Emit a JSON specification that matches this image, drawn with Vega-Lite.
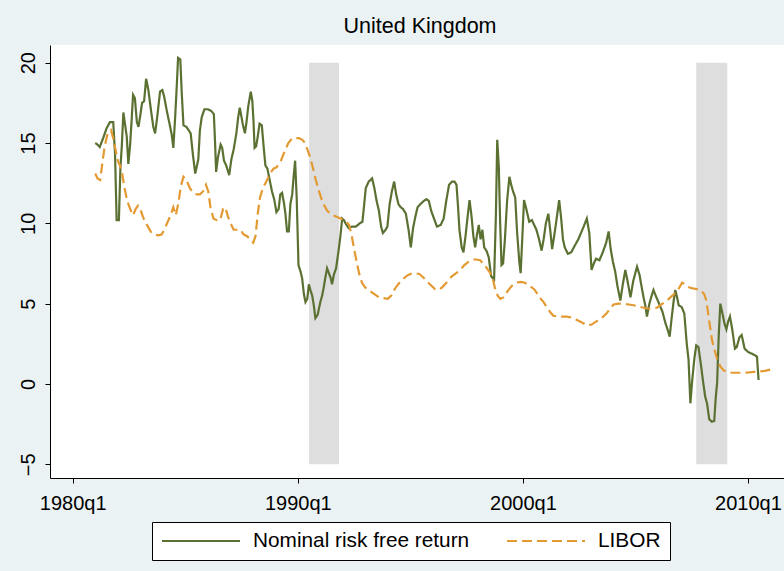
{
  "$schema": "https://vega.github.io/schema/vega-lite/v6.json",
  "width": 734,
  "height": 433,
  "autosize": {"type": "none"},
  "padding": {"left": 50, "top": 45, "right": 0, "bottom": 93},
  "background": "#EAF2F3",
  "view": {"fill": "white", "stroke": null},
  "title": {
    "text": "United Kingdom",
    "font": "Liberation Sans",
    "fontSize": 21.5,
    "fontWeight": "normal",
    "color": "black",
    "anchor": "middle",
    "baseline": "alphabetic",
    "offset": 11,
    "dx": 3,
    "dy": 20
  },
  "datasets": {
    "recessions": [
      {"start": 1990.5, "end": 1991.83},
      {"start": 2007.7, "end": 2009.08}
    ],
    "rates": [
      {"t": 1981.00, "value": 15.0, "series": "Nominal risk free return"},
      {"t": 1981.10, "value": 14.9, "series": "Nominal risk free return"},
      {"t": 1981.20, "value": 14.75, "series": "Nominal risk free return"},
      {"t": 1981.35, "value": 15.3, "series": "Nominal risk free return"},
      {"t": 1981.50, "value": 15.9, "series": "Nominal risk free return"},
      {"t": 1981.65, "value": 16.3, "series": "Nominal risk free return"},
      {"t": 1981.80, "value": 16.3, "series": "Nominal risk free return"},
      {"t": 1981.88, "value": 14.3, "series": "Nominal risk free return"},
      {"t": 1981.95, "value": 10.2, "series": "Nominal risk free return"},
      {"t": 1982.05, "value": 10.2, "series": "Nominal risk free return"},
      {"t": 1982.12, "value": 13.5, "series": "Nominal risk free return"},
      {"t": 1982.18, "value": 14.8, "series": "Nominal risk free return"},
      {"t": 1982.25, "value": 16.9, "series": "Nominal risk free return"},
      {"t": 1982.32, "value": 16.2, "series": "Nominal risk free return"},
      {"t": 1982.40, "value": 15.4, "series": "Nominal risk free return"},
      {"t": 1982.47, "value": 13.7, "series": "Nominal risk free return"},
      {"t": 1982.55, "value": 14.9, "series": "Nominal risk free return"},
      {"t": 1982.62, "value": 16.5, "series": "Nominal risk free return"},
      {"t": 1982.68, "value": 18.0, "series": "Nominal risk free return"},
      {"t": 1982.76, "value": 17.8, "series": "Nominal risk free return"},
      {"t": 1982.85, "value": 16.3, "series": "Nominal risk free return"},
      {"t": 1982.92, "value": 16.0, "series": "Nominal risk free return"},
      {"t": 1983.00, "value": 16.7, "series": "Nominal risk free return"},
      {"t": 1983.08, "value": 17.5, "series": "Nominal risk free return"},
      {"t": 1983.17, "value": 17.6, "series": "Nominal risk free return"},
      {"t": 1983.26, "value": 19.0, "series": "Nominal risk free return"},
      {"t": 1983.36, "value": 18.3, "series": "Nominal risk free return"},
      {"t": 1983.48, "value": 17.0, "series": "Nominal risk free return"},
      {"t": 1983.58, "value": 16.0, "series": "Nominal risk free return"},
      {"t": 1983.66, "value": 15.6, "series": "Nominal risk free return"},
      {"t": 1983.76, "value": 16.7, "series": "Nominal risk free return"},
      {"t": 1983.88, "value": 18.2, "series": "Nominal risk free return"},
      {"t": 1983.98, "value": 18.3, "series": "Nominal risk free return"},
      {"t": 1984.06, "value": 17.9, "series": "Nominal risk free return"},
      {"t": 1984.18, "value": 17.0, "series": "Nominal risk free return"},
      {"t": 1984.30, "value": 16.2, "series": "Nominal risk free return"},
      {"t": 1984.40, "value": 15.5, "series": "Nominal risk free return"},
      {"t": 1984.47, "value": 14.7, "series": "Nominal risk free return"},
      {"t": 1984.55, "value": 16.6, "series": "Nominal risk free return"},
      {"t": 1984.62, "value": 18.5, "series": "Nominal risk free return"},
      {"t": 1984.68, "value": 20.3, "series": "Nominal risk free return"},
      {"t": 1984.78, "value": 20.2, "series": "Nominal risk free return"},
      {"t": 1984.84, "value": 18.2, "series": "Nominal risk free return"},
      {"t": 1984.92, "value": 16.1, "series": "Nominal risk free return"},
      {"t": 1985.05, "value": 16.0, "series": "Nominal risk free return"},
      {"t": 1985.15, "value": 15.8, "series": "Nominal risk free return"},
      {"t": 1985.24, "value": 15.6, "series": "Nominal risk free return"},
      {"t": 1985.33, "value": 14.4, "series": "Nominal risk free return"},
      {"t": 1985.44, "value": 13.1, "series": "Nominal risk free return"},
      {"t": 1985.52, "value": 13.6, "series": "Nominal risk free return"},
      {"t": 1985.58, "value": 14.0, "series": "Nominal risk free return"},
      {"t": 1985.65, "value": 15.8, "series": "Nominal risk free return"},
      {"t": 1985.73, "value": 16.6, "series": "Nominal risk free return"},
      {"t": 1985.85, "value": 17.1, "series": "Nominal risk free return"},
      {"t": 1986.00, "value": 17.1, "series": "Nominal risk free return"},
      {"t": 1986.15, "value": 17.0, "series": "Nominal risk free return"},
      {"t": 1986.27, "value": 16.8, "series": "Nominal risk free return"},
      {"t": 1986.33, "value": 14.8, "series": "Nominal risk free return"},
      {"t": 1986.37, "value": 13.2, "series": "Nominal risk free return"},
      {"t": 1986.45, "value": 14.1, "series": "Nominal risk free return"},
      {"t": 1986.57, "value": 14.9, "series": "Nominal risk free return"},
      {"t": 1986.64, "value": 14.7, "series": "Nominal risk free return"},
      {"t": 1986.72, "value": 13.9, "series": "Nominal risk free return"},
      {"t": 1986.82, "value": 13.6, "series": "Nominal risk free return"},
      {"t": 1986.95, "value": 13.0, "series": "Nominal risk free return"},
      {"t": 1987.05, "value": 14.0, "series": "Nominal risk free return"},
      {"t": 1987.15, "value": 14.6, "series": "Nominal risk free return"},
      {"t": 1987.27, "value": 15.6, "series": "Nominal risk free return"},
      {"t": 1987.35, "value": 16.6, "series": "Nominal risk free return"},
      {"t": 1987.42, "value": 17.2, "series": "Nominal risk free return"},
      {"t": 1987.50, "value": 16.6, "series": "Nominal risk free return"},
      {"t": 1987.55, "value": 16.2, "series": "Nominal risk free return"},
      {"t": 1987.65, "value": 15.6, "series": "Nominal risk free return"},
      {"t": 1987.72, "value": 16.3, "series": "Nominal risk free return"},
      {"t": 1987.80, "value": 17.3, "series": "Nominal risk free return"},
      {"t": 1987.91, "value": 18.2, "series": "Nominal risk free return"},
      {"t": 1987.98, "value": 17.6, "series": "Nominal risk free return"},
      {"t": 1988.03, "value": 16.4, "series": "Nominal risk free return"},
      {"t": 1988.08, "value": 14.7, "series": "Nominal risk free return"},
      {"t": 1988.15, "value": 14.8, "series": "Nominal risk free return"},
      {"t": 1988.22, "value": 15.4, "series": "Nominal risk free return"},
      {"t": 1988.30, "value": 16.2, "series": "Nominal risk free return"},
      {"t": 1988.40, "value": 16.1, "series": "Nominal risk free return"},
      {"t": 1988.48, "value": 14.8, "series": "Nominal risk free return"},
      {"t": 1988.56, "value": 13.6, "series": "Nominal risk free return"},
      {"t": 1988.65, "value": 13.4, "series": "Nominal risk free return"},
      {"t": 1988.75, "value": 12.7, "series": "Nominal risk free return"},
      {"t": 1988.85, "value": 12.0, "series": "Nominal risk free return"},
      {"t": 1988.95, "value": 11.5, "series": "Nominal risk free return"},
      {"t": 1989.05, "value": 10.7, "series": "Nominal risk free return"},
      {"t": 1989.15, "value": 10.9, "series": "Nominal risk free return"},
      {"t": 1989.22, "value": 11.8, "series": "Nominal risk free return"},
      {"t": 1989.30, "value": 11.9, "series": "Nominal risk free return"},
      {"t": 1989.38, "value": 11.3, "series": "Nominal risk free return"},
      {"t": 1989.45, "value": 10.6, "series": "Nominal risk free return"},
      {"t": 1989.52, "value": 9.5, "series": "Nominal risk free return"},
      {"t": 1989.60, "value": 9.5, "series": "Nominal risk free return"},
      {"t": 1989.67, "value": 11.2, "series": "Nominal risk free return"},
      {"t": 1989.75, "value": 11.8, "series": "Nominal risk free return"},
      {"t": 1989.82, "value": 13.0, "series": "Nominal risk free return"},
      {"t": 1989.88, "value": 13.9, "series": "Nominal risk free return"},
      {"t": 1989.95, "value": 11.6, "series": "Nominal risk free return"},
      {"t": 1990.03, "value": 7.4, "series": "Nominal risk free return"},
      {"t": 1990.12, "value": 7.0, "series": "Nominal risk free return"},
      {"t": 1990.19, "value": 6.6, "series": "Nominal risk free return"},
      {"t": 1990.27, "value": 5.6, "series": "Nominal risk free return"},
      {"t": 1990.34, "value": 5.1, "series": "Nominal risk free return"},
      {"t": 1990.42, "value": 5.3, "series": "Nominal risk free return"},
      {"t": 1990.49, "value": 6.2, "series": "Nominal risk free return"},
      {"t": 1990.57, "value": 5.8, "series": "Nominal risk free return"},
      {"t": 1990.64, "value": 5.5, "series": "Nominal risk free return"},
      {"t": 1990.72, "value": 4.8, "series": "Nominal risk free return"},
      {"t": 1990.78, "value": 4.1, "series": "Nominal risk free return"},
      {"t": 1990.88, "value": 4.3, "series": "Nominal risk free return"},
      {"t": 1991.00, "value": 5.1, "series": "Nominal risk free return"},
      {"t": 1991.08, "value": 5.5, "series": "Nominal risk free return"},
      {"t": 1991.15, "value": 6.0, "series": "Nominal risk free return"},
      {"t": 1991.22, "value": 6.6, "series": "Nominal risk free return"},
      {"t": 1991.30, "value": 7.2, "series": "Nominal risk free return"},
      {"t": 1991.38, "value": 6.9, "series": "Nominal risk free return"},
      {"t": 1991.46, "value": 6.6, "series": "Nominal risk free return"},
      {"t": 1991.52, "value": 6.2, "series": "Nominal risk free return"},
      {"t": 1991.60, "value": 6.8, "series": "Nominal risk free return"},
      {"t": 1991.70, "value": 7.2, "series": "Nominal risk free return"},
      {"t": 1991.82, "value": 8.4, "series": "Nominal risk free return"},
      {"t": 1991.90, "value": 9.3, "series": "Nominal risk free return"},
      {"t": 1991.97, "value": 10.3, "series": "Nominal risk free return"},
      {"t": 1992.05, "value": 10.2, "series": "Nominal risk free return"},
      {"t": 1992.12, "value": 10.0, "series": "Nominal risk free return"},
      {"t": 1992.26, "value": 9.7, "series": "Nominal risk free return"},
      {"t": 1992.40, "value": 9.8, "series": "Nominal risk free return"},
      {"t": 1992.58, "value": 9.8, "series": "Nominal risk free return"},
      {"t": 1992.75, "value": 10.0, "series": "Nominal risk free return"},
      {"t": 1992.87, "value": 10.1, "series": "Nominal risk free return"},
      {"t": 1992.95, "value": 11.2, "series": "Nominal risk free return"},
      {"t": 1993.02, "value": 12.2, "series": "Nominal risk free return"},
      {"t": 1993.15, "value": 12.6, "series": "Nominal risk free return"},
      {"t": 1993.30, "value": 12.8, "series": "Nominal risk free return"},
      {"t": 1993.40, "value": 12.2, "series": "Nominal risk free return"},
      {"t": 1993.50, "value": 11.4, "series": "Nominal risk free return"},
      {"t": 1993.60, "value": 10.8, "series": "Nominal risk free return"},
      {"t": 1993.70, "value": 9.8, "series": "Nominal risk free return"},
      {"t": 1993.78, "value": 9.4, "series": "Nominal risk free return"},
      {"t": 1993.90, "value": 9.6, "series": "Nominal risk free return"},
      {"t": 1993.98, "value": 9.8, "series": "Nominal risk free return"},
      {"t": 1994.08, "value": 11.2, "series": "Nominal risk free return"},
      {"t": 1994.18, "value": 12.0, "series": "Nominal risk free return"},
      {"t": 1994.28, "value": 12.6, "series": "Nominal risk free return"},
      {"t": 1994.37, "value": 11.8, "series": "Nominal risk free return"},
      {"t": 1994.47, "value": 11.2, "series": "Nominal risk free return"},
      {"t": 1994.57, "value": 11.0, "series": "Nominal risk free return"},
      {"t": 1994.67, "value": 10.9, "series": "Nominal risk free return"},
      {"t": 1994.80, "value": 10.6, "series": "Nominal risk free return"},
      {"t": 1994.92, "value": 9.6, "series": "Nominal risk free return"},
      {"t": 1995.02, "value": 8.5, "series": "Nominal risk free return"},
      {"t": 1995.12, "value": 9.7, "series": "Nominal risk free return"},
      {"t": 1995.22, "value": 10.4, "series": "Nominal risk free return"},
      {"t": 1995.32, "value": 11.0, "series": "Nominal risk free return"},
      {"t": 1995.45, "value": 11.2, "series": "Nominal risk free return"},
      {"t": 1995.60, "value": 11.4, "series": "Nominal risk free return"},
      {"t": 1995.72, "value": 11.5, "series": "Nominal risk free return"},
      {"t": 1995.82, "value": 11.4, "series": "Nominal risk free return"},
      {"t": 1995.92, "value": 10.8, "series": "Nominal risk free return"},
      {"t": 1996.05, "value": 10.3, "series": "Nominal risk free return"},
      {"t": 1996.18, "value": 9.8, "series": "Nominal risk free return"},
      {"t": 1996.35, "value": 9.9, "series": "Nominal risk free return"},
      {"t": 1996.48, "value": 10.3, "series": "Nominal risk free return"},
      {"t": 1996.60, "value": 11.45, "series": "Nominal risk free return"},
      {"t": 1996.72, "value": 12.4, "series": "Nominal risk free return"},
      {"t": 1996.85, "value": 12.6, "series": "Nominal risk free return"},
      {"t": 1996.96, "value": 12.6, "series": "Nominal risk free return"},
      {"t": 1997.05, "value": 12.4, "series": "Nominal risk free return"},
      {"t": 1997.12, "value": 11.0, "series": "Nominal risk free return"},
      {"t": 1997.18, "value": 9.6, "series": "Nominal risk free return"},
      {"t": 1997.28, "value": 8.5, "series": "Nominal risk free return"},
      {"t": 1997.36, "value": 8.2, "series": "Nominal risk free return"},
      {"t": 1997.45, "value": 9.2, "series": "Nominal risk free return"},
      {"t": 1997.55, "value": 10.5, "series": "Nominal risk free return"},
      {"t": 1997.63, "value": 11.45, "series": "Nominal risk free return"},
      {"t": 1997.72, "value": 10.4, "series": "Nominal risk free return"},
      {"t": 1997.80, "value": 9.2, "series": "Nominal risk free return"},
      {"t": 1997.88, "value": 8.5, "series": "Nominal risk free return"},
      {"t": 1997.96, "value": 9.3, "series": "Nominal risk free return"},
      {"t": 1998.04, "value": 9.9, "series": "Nominal risk free return"},
      {"t": 1998.12, "value": 9.0, "series": "Nominal risk free return"},
      {"t": 1998.20, "value": 9.6, "series": "Nominal risk free return"},
      {"t": 1998.28, "value": 8.5, "series": "Nominal risk free return"},
      {"t": 1998.38, "value": 8.3, "series": "Nominal risk free return"},
      {"t": 1998.48, "value": 7.9, "series": "Nominal risk free return"},
      {"t": 1998.59, "value": 6.7, "series": "Nominal risk free return"},
      {"t": 1998.72, "value": 6.5, "series": "Nominal risk free return"},
      {"t": 1998.80, "value": 10.5, "series": "Nominal risk free return"},
      {"t": 1998.86, "value": 15.2, "series": "Nominal risk free return"},
      {"t": 1998.93, "value": 13.5, "series": "Nominal risk free return"},
      {"t": 1998.99, "value": 10.0, "series": "Nominal risk free return"},
      {"t": 1999.05, "value": 7.4, "series": "Nominal risk free return"},
      {"t": 1999.12, "value": 7.5, "series": "Nominal risk free return"},
      {"t": 1999.20, "value": 9.0, "series": "Nominal risk free return"},
      {"t": 1999.30, "value": 11.45, "series": "Nominal risk free return"},
      {"t": 1999.40, "value": 12.9, "series": "Nominal risk free return"},
      {"t": 1999.48, "value": 12.4, "series": "Nominal risk free return"},
      {"t": 1999.56, "value": 12.0, "series": "Nominal risk free return"},
      {"t": 1999.66, "value": 11.6, "series": "Nominal risk free return"},
      {"t": 1999.74, "value": 9.5, "series": "Nominal risk free return"},
      {"t": 1999.84, "value": 7.6, "series": "Nominal risk free return"},
      {"t": 1999.90, "value": 6.9, "series": "Nominal risk free return"},
      {"t": 1999.97, "value": 9.0, "series": "Nominal risk free return"},
      {"t": 2000.05, "value": 11.45, "series": "Nominal risk free return"},
      {"t": 2000.15, "value": 10.9, "series": "Nominal risk free return"},
      {"t": 2000.28, "value": 10.1, "series": "Nominal risk free return"},
      {"t": 2000.40, "value": 10.2, "series": "Nominal risk free return"},
      {"t": 2000.50, "value": 9.9, "series": "Nominal risk free return"},
      {"t": 2000.60, "value": 9.6, "series": "Nominal risk free return"},
      {"t": 2000.72, "value": 9.0, "series": "Nominal risk free return"},
      {"t": 2000.83, "value": 8.3, "series": "Nominal risk free return"},
      {"t": 2000.92, "value": 9.0, "series": "Nominal risk free return"},
      {"t": 2001.02, "value": 10.0, "series": "Nominal risk free return"},
      {"t": 2001.13, "value": 10.6, "series": "Nominal risk free return"},
      {"t": 2001.22, "value": 9.5, "series": "Nominal risk free return"},
      {"t": 2001.30, "value": 8.4, "series": "Nominal risk free return"},
      {"t": 2001.42, "value": 9.5, "series": "Nominal risk free return"},
      {"t": 2001.52, "value": 10.5, "series": "Nominal risk free return"},
      {"t": 2001.61, "value": 11.45, "series": "Nominal risk free return"},
      {"t": 2001.70, "value": 10.3, "series": "Nominal risk free return"},
      {"t": 2001.78, "value": 9.0, "series": "Nominal risk free return"},
      {"t": 2001.86, "value": 8.5, "series": "Nominal risk free return"},
      {"t": 2002.00, "value": 8.1, "series": "Nominal risk free return"},
      {"t": 2002.15, "value": 8.2, "series": "Nominal risk free return"},
      {"t": 2002.30, "value": 8.6, "series": "Nominal risk free return"},
      {"t": 2002.46, "value": 9.0, "series": "Nominal risk free return"},
      {"t": 2002.58, "value": 9.4, "series": "Nominal risk free return"},
      {"t": 2002.70, "value": 9.8, "series": "Nominal risk free return"},
      {"t": 2002.84, "value": 10.3, "series": "Nominal risk free return"},
      {"t": 2002.95, "value": 9.4, "series": "Nominal risk free return"},
      {"t": 2003.05, "value": 7.1, "series": "Nominal risk free return"},
      {"t": 2003.15, "value": 7.5, "series": "Nominal risk free return"},
      {"t": 2003.25, "value": 7.8, "series": "Nominal risk free return"},
      {"t": 2003.40, "value": 7.7, "series": "Nominal risk free return"},
      {"t": 2003.55, "value": 8.2, "series": "Nominal risk free return"},
      {"t": 2003.70, "value": 8.8, "series": "Nominal risk free return"},
      {"t": 2003.81, "value": 9.5, "series": "Nominal risk free return"},
      {"t": 2003.90, "value": 8.4, "series": "Nominal risk free return"},
      {"t": 2004.00, "value": 7.6, "series": "Nominal risk free return"},
      {"t": 2004.10, "value": 7.0, "series": "Nominal risk free return"},
      {"t": 2004.20, "value": 6.1, "series": "Nominal risk free return"},
      {"t": 2004.33, "value": 5.2, "series": "Nominal risk free return"},
      {"t": 2004.45, "value": 6.3, "series": "Nominal risk free return"},
      {"t": 2004.55, "value": 7.1, "series": "Nominal risk free return"},
      {"t": 2004.65, "value": 6.4, "series": "Nominal risk free return"},
      {"t": 2004.78, "value": 5.4, "series": "Nominal risk free return"},
      {"t": 2004.90, "value": 6.4, "series": "Nominal risk free return"},
      {"t": 2005.07, "value": 7.3, "series": "Nominal risk free return"},
      {"t": 2005.18, "value": 6.8, "series": "Nominal risk free return"},
      {"t": 2005.28, "value": 6.0, "series": "Nominal risk free return"},
      {"t": 2005.36, "value": 5.4, "series": "Nominal risk free return"},
      {"t": 2005.45, "value": 4.8, "series": "Nominal risk free return"},
      {"t": 2005.51, "value": 4.2, "series": "Nominal risk free return"},
      {"t": 2005.62, "value": 5.0, "series": "Nominal risk free return"},
      {"t": 2005.72, "value": 5.5, "series": "Nominal risk free return"},
      {"t": 2005.80, "value": 5.85, "series": "Nominal risk free return"},
      {"t": 2005.90, "value": 5.5, "series": "Nominal risk free return"},
      {"t": 2006.05, "value": 5.0, "series": "Nominal risk free return"},
      {"t": 2006.20, "value": 4.5, "series": "Nominal risk free return"},
      {"t": 2006.33, "value": 3.8, "series": "Nominal risk free return"},
      {"t": 2006.45, "value": 3.3, "series": "Nominal risk free return"},
      {"t": 2006.52, "value": 2.95, "series": "Nominal risk free return"},
      {"t": 2006.60, "value": 4.0, "series": "Nominal risk free return"},
      {"t": 2006.70, "value": 5.2, "series": "Nominal risk free return"},
      {"t": 2006.77, "value": 5.85, "series": "Nominal risk free return"},
      {"t": 2006.85, "value": 5.4, "series": "Nominal risk free return"},
      {"t": 2006.92, "value": 4.9, "series": "Nominal risk free return"},
      {"t": 2007.05, "value": 4.8, "series": "Nominal risk free return"},
      {"t": 2007.17, "value": 4.4, "series": "Nominal risk free return"},
      {"t": 2007.28, "value": 2.5, "series": "Nominal risk free return"},
      {"t": 2007.36, "value": 1.5, "series": "Nominal risk free return"},
      {"t": 2007.44, "value": -1.2, "series": "Nominal risk free return"},
      {"t": 2007.52, "value": 0.2, "series": "Nominal risk free return"},
      {"t": 2007.62, "value": 1.6, "series": "Nominal risk free return"},
      {"t": 2007.70, "value": 2.4, "series": "Nominal risk free return"},
      {"t": 2007.80, "value": 2.3, "series": "Nominal risk free return"},
      {"t": 2007.90, "value": 1.3, "series": "Nominal risk free return"},
      {"t": 2008.00, "value": 0.2, "series": "Nominal risk free return"},
      {"t": 2008.10, "value": -0.8, "series": "Nominal risk free return"},
      {"t": 2008.18, "value": -1.2, "series": "Nominal risk free return"},
      {"t": 2008.28, "value": -2.2, "series": "Nominal risk free return"},
      {"t": 2008.40, "value": -2.35, "series": "Nominal risk free return"},
      {"t": 2008.50, "value": -2.3, "series": "Nominal risk free return"},
      {"t": 2008.57, "value": -0.8, "series": "Nominal risk free return"},
      {"t": 2008.63, "value": 0.1, "series": "Nominal risk free return"},
      {"t": 2008.70, "value": 3.0, "series": "Nominal risk free return"},
      {"t": 2008.77, "value": 5.0, "series": "Nominal risk free return"},
      {"t": 2008.85, "value": 4.5, "series": "Nominal risk free return"},
      {"t": 2008.95, "value": 3.8, "series": "Nominal risk free return"},
      {"t": 2009.04, "value": 3.4, "series": "Nominal risk free return"},
      {"t": 2009.12, "value": 3.9, "series": "Nominal risk free return"},
      {"t": 2009.20, "value": 4.2, "series": "Nominal risk free return"},
      {"t": 2009.30, "value": 3.4, "series": "Nominal risk free return"},
      {"t": 2009.42, "value": 2.2, "series": "Nominal risk free return"},
      {"t": 2009.50, "value": 2.3, "series": "Nominal risk free return"},
      {"t": 2009.62, "value": 2.9, "series": "Nominal risk free return"},
      {"t": 2009.72, "value": 3.05, "series": "Nominal risk free return"},
      {"t": 2009.85, "value": 2.2, "series": "Nominal risk free return"},
      {"t": 2010.00, "value": 2.0, "series": "Nominal risk free return"},
      {"t": 2010.15, "value": 1.9, "series": "Nominal risk free return"},
      {"t": 2010.30, "value": 1.8, "series": "Nominal risk free return"},
      {"t": 2010.40, "value": 1.7, "series": "Nominal risk free return"},
      {"t": 2010.47, "value": 0.25, "series": "Nominal risk free return"},
      {"t": 1981.00, "value": 13.1, "series": "LIBOR"},
      {"t": 1981.10, "value": 12.8, "series": "LIBOR"},
      {"t": 1981.22, "value": 12.7, "series": "LIBOR"},
      {"t": 1981.32, "value": 13.8, "series": "LIBOR"},
      {"t": 1981.42, "value": 14.8, "series": "LIBOR"},
      {"t": 1981.55, "value": 15.6, "series": "LIBOR"},
      {"t": 1981.70, "value": 15.8, "series": "LIBOR"},
      {"t": 1981.80, "value": 15.3, "series": "LIBOR"},
      {"t": 1981.90, "value": 14.6, "series": "LIBOR"},
      {"t": 1982.00, "value": 13.9, "series": "LIBOR"},
      {"t": 1982.10, "value": 13.6, "series": "LIBOR"},
      {"t": 1982.20, "value": 13.1, "series": "LIBOR"},
      {"t": 1982.30, "value": 12.2, "series": "LIBOR"},
      {"t": 1982.42, "value": 11.4, "series": "LIBOR"},
      {"t": 1982.55, "value": 10.9, "series": "LIBOR"},
      {"t": 1982.68, "value": 10.5, "series": "LIBOR"},
      {"t": 1982.80, "value": 10.9, "series": "LIBOR"},
      {"t": 1982.90, "value": 11.1, "series": "LIBOR"},
      {"t": 1983.00, "value": 10.9, "series": "LIBOR"},
      {"t": 1983.12, "value": 10.4, "series": "LIBOR"},
      {"t": 1983.25, "value": 10.0, "series": "LIBOR"},
      {"t": 1983.38, "value": 9.7, "series": "LIBOR"},
      {"t": 1983.50, "value": 9.4, "series": "LIBOR"},
      {"t": 1983.65, "value": 9.3, "series": "LIBOR"},
      {"t": 1983.80, "value": 9.25, "series": "LIBOR"},
      {"t": 1983.95, "value": 9.3, "series": "LIBOR"},
      {"t": 1984.10, "value": 9.7, "series": "LIBOR"},
      {"t": 1984.22, "value": 10.1, "series": "LIBOR"},
      {"t": 1984.35, "value": 10.5, "series": "LIBOR"},
      {"t": 1984.47, "value": 11.0, "series": "LIBOR"},
      {"t": 1984.58, "value": 10.5, "series": "LIBOR"},
      {"t": 1984.70, "value": 11.3, "series": "LIBOR"},
      {"t": 1984.80, "value": 12.3, "series": "LIBOR"},
      {"t": 1984.92, "value": 12.9, "series": "LIBOR"},
      {"t": 1985.05, "value": 12.7, "series": "LIBOR"},
      {"t": 1985.20, "value": 12.2, "series": "LIBOR"},
      {"t": 1985.35, "value": 11.9, "series": "LIBOR"},
      {"t": 1985.50, "value": 11.8, "series": "LIBOR"},
      {"t": 1985.65, "value": 11.8, "series": "LIBOR"},
      {"t": 1985.80, "value": 12.0, "series": "LIBOR"},
      {"t": 1985.92, "value": 12.4, "series": "LIBOR"},
      {"t": 1986.02, "value": 12.0, "series": "LIBOR"},
      {"t": 1986.12, "value": 11.0, "series": "LIBOR"},
      {"t": 1986.25, "value": 10.3, "series": "LIBOR"},
      {"t": 1986.40, "value": 10.2, "series": "LIBOR"},
      {"t": 1986.55, "value": 10.2, "series": "LIBOR"},
      {"t": 1986.68, "value": 10.9, "series": "LIBOR"},
      {"t": 1986.78, "value": 11.0, "series": "LIBOR"},
      {"t": 1986.90, "value": 10.4, "series": "LIBOR"},
      {"t": 1987.05, "value": 9.9, "series": "LIBOR"},
      {"t": 1987.15, "value": 9.6, "series": "LIBOR"},
      {"t": 1987.30, "value": 9.6, "series": "LIBOR"},
      {"t": 1987.45, "value": 9.6, "series": "LIBOR"},
      {"t": 1987.60, "value": 9.3, "series": "LIBOR"},
      {"t": 1987.75, "value": 9.2, "series": "LIBOR"},
      {"t": 1987.88, "value": 9.0, "series": "LIBOR"},
      {"t": 1988.02, "value": 8.8, "series": "LIBOR"},
      {"t": 1988.12, "value": 9.2, "series": "LIBOR"},
      {"t": 1988.22, "value": 10.6, "series": "LIBOR"},
      {"t": 1988.32, "value": 11.6, "series": "LIBOR"},
      {"t": 1988.45, "value": 12.2, "series": "LIBOR"},
      {"t": 1988.60, "value": 12.6, "series": "LIBOR"},
      {"t": 1988.77, "value": 13.1, "series": "LIBOR"},
      {"t": 1988.92, "value": 13.4, "series": "LIBOR"},
      {"t": 1989.06, "value": 13.5, "series": "LIBOR"},
      {"t": 1989.25, "value": 13.9, "series": "LIBOR"},
      {"t": 1989.42, "value": 14.5, "series": "LIBOR"},
      {"t": 1989.58, "value": 15.0, "series": "LIBOR"},
      {"t": 1989.75, "value": 15.3, "series": "LIBOR"},
      {"t": 1989.92, "value": 15.3, "series": "LIBOR"},
      {"t": 1990.05, "value": 15.3, "series": "LIBOR"},
      {"t": 1990.20, "value": 15.2, "series": "LIBOR"},
      {"t": 1990.32, "value": 15.0, "series": "LIBOR"},
      {"t": 1990.45, "value": 14.5, "series": "LIBOR"},
      {"t": 1990.55, "value": 14.1, "series": "LIBOR"},
      {"t": 1990.68, "value": 13.4, "series": "LIBOR"},
      {"t": 1990.80, "value": 12.7, "series": "LIBOR"},
      {"t": 1990.92, "value": 12.1, "series": "LIBOR"},
      {"t": 1991.03, "value": 11.6, "series": "LIBOR"},
      {"t": 1991.14, "value": 11.2, "series": "LIBOR"},
      {"t": 1991.30, "value": 10.8, "series": "LIBOR"},
      {"t": 1991.45, "value": 10.6, "series": "LIBOR"},
      {"t": 1991.58, "value": 10.5, "series": "LIBOR"},
      {"t": 1991.75, "value": 10.4, "series": "LIBOR"},
      {"t": 1991.90, "value": 10.3, "series": "LIBOR"},
      {"t": 1992.03, "value": 10.2, "series": "LIBOR"},
      {"t": 1992.15, "value": 10.1, "series": "LIBOR"},
      {"t": 1992.28, "value": 9.9, "series": "LIBOR"},
      {"t": 1992.40, "value": 9.2, "series": "LIBOR"},
      {"t": 1992.50, "value": 8.4, "series": "LIBOR"},
      {"t": 1992.60, "value": 7.7, "series": "LIBOR"},
      {"t": 1992.72, "value": 6.9, "series": "LIBOR"},
      {"t": 1992.85, "value": 6.3, "series": "LIBOR"},
      {"t": 1993.00, "value": 6.0, "series": "LIBOR"},
      {"t": 1993.20, "value": 5.8, "series": "LIBOR"},
      {"t": 1993.40, "value": 5.6, "series": "LIBOR"},
      {"t": 1993.60, "value": 5.4, "series": "LIBOR"},
      {"t": 1993.80, "value": 5.35, "series": "LIBOR"},
      {"t": 1994.00, "value": 5.3, "series": "LIBOR"},
      {"t": 1994.15, "value": 5.5, "series": "LIBOR"},
      {"t": 1994.30, "value": 5.9, "series": "LIBOR"},
      {"t": 1994.45, "value": 6.2, "series": "LIBOR"},
      {"t": 1994.65, "value": 6.5, "series": "LIBOR"},
      {"t": 1994.85, "value": 6.75, "series": "LIBOR"},
      {"t": 1995.00, "value": 6.85, "series": "LIBOR"},
      {"t": 1995.20, "value": 6.9, "series": "LIBOR"},
      {"t": 1995.40, "value": 6.85, "series": "LIBOR"},
      {"t": 1995.60, "value": 6.6, "series": "LIBOR"},
      {"t": 1995.80, "value": 6.3, "series": "LIBOR"},
      {"t": 1995.95, "value": 6.1, "series": "LIBOR"},
      {"t": 1996.10, "value": 5.9, "series": "LIBOR"},
      {"t": 1996.25, "value": 5.85, "series": "LIBOR"},
      {"t": 1996.40, "value": 6.0, "series": "LIBOR"},
      {"t": 1996.60, "value": 6.3, "series": "LIBOR"},
      {"t": 1996.84, "value": 6.7, "series": "LIBOR"},
      {"t": 1997.04, "value": 6.9, "series": "LIBOR"},
      {"t": 1997.21, "value": 7.1, "series": "LIBOR"},
      {"t": 1997.40, "value": 7.4, "series": "LIBOR"},
      {"t": 1997.58, "value": 7.6, "series": "LIBOR"},
      {"t": 1997.80, "value": 7.75, "series": "LIBOR"},
      {"t": 1997.92, "value": 7.75, "series": "LIBOR"},
      {"t": 1998.10, "value": 7.7, "series": "LIBOR"},
      {"t": 1998.30, "value": 7.4, "series": "LIBOR"},
      {"t": 1998.45, "value": 7.1, "series": "LIBOR"},
      {"t": 1998.55, "value": 6.9, "series": "LIBOR"},
      {"t": 1998.67, "value": 6.5, "series": "LIBOR"},
      {"t": 1998.77, "value": 5.9, "series": "LIBOR"},
      {"t": 1998.88, "value": 5.5, "series": "LIBOR"},
      {"t": 1999.00, "value": 5.3, "series": "LIBOR"},
      {"t": 1999.15, "value": 5.4, "series": "LIBOR"},
      {"t": 1999.33, "value": 5.8, "series": "LIBOR"},
      {"t": 1999.50, "value": 6.1, "series": "LIBOR"},
      {"t": 1999.70, "value": 6.3, "series": "LIBOR"},
      {"t": 1999.90, "value": 6.35, "series": "LIBOR"},
      {"t": 2000.10, "value": 6.3, "series": "LIBOR"},
      {"t": 2000.30, "value": 6.1, "series": "LIBOR"},
      {"t": 2000.50, "value": 5.9, "series": "LIBOR"},
      {"t": 2000.65, "value": 5.6, "series": "LIBOR"},
      {"t": 2000.80, "value": 5.3, "series": "LIBOR"},
      {"t": 2000.92, "value": 5.1, "series": "LIBOR"},
      {"t": 2001.05, "value": 4.8, "series": "LIBOR"},
      {"t": 2001.20, "value": 4.5, "series": "LIBOR"},
      {"t": 2001.35, "value": 4.25, "series": "LIBOR"},
      {"t": 2001.55, "value": 4.2, "series": "LIBOR"},
      {"t": 2001.75, "value": 4.2, "series": "LIBOR"},
      {"t": 2001.94, "value": 4.2, "series": "LIBOR"},
      {"t": 2002.10, "value": 4.15, "series": "LIBOR"},
      {"t": 2002.38, "value": 4.0, "series": "LIBOR"},
      {"t": 2002.60, "value": 3.85, "series": "LIBOR"},
      {"t": 2002.83, "value": 3.65, "series": "LIBOR"},
      {"t": 2003.05, "value": 3.7, "series": "LIBOR"},
      {"t": 2003.27, "value": 3.9, "series": "LIBOR"},
      {"t": 2003.50, "value": 4.1, "series": "LIBOR"},
      {"t": 2003.72, "value": 4.4, "series": "LIBOR"},
      {"t": 2003.88, "value": 4.7, "series": "LIBOR"},
      {"t": 2004.03, "value": 4.95, "series": "LIBOR"},
      {"t": 2004.25, "value": 5.0, "series": "LIBOR"},
      {"t": 2004.45, "value": 5.0, "series": "LIBOR"},
      {"t": 2004.70, "value": 4.95, "series": "LIBOR"},
      {"t": 2004.92, "value": 4.9, "series": "LIBOR"},
      {"t": 2005.20, "value": 4.8, "series": "LIBOR"},
      {"t": 2005.51, "value": 4.7, "series": "LIBOR"},
      {"t": 2005.75, "value": 4.7, "series": "LIBOR"},
      {"t": 2005.96, "value": 4.75, "series": "LIBOR"},
      {"t": 2006.15, "value": 4.95, "series": "LIBOR"},
      {"t": 2006.40, "value": 5.2, "series": "LIBOR"},
      {"t": 2006.60, "value": 5.45, "series": "LIBOR"},
      {"t": 2006.77, "value": 5.65, "series": "LIBOR"},
      {"t": 2006.95, "value": 6.0, "series": "LIBOR"},
      {"t": 2007.07, "value": 6.3, "series": "LIBOR"},
      {"t": 2007.22, "value": 6.2, "series": "LIBOR"},
      {"t": 2007.40, "value": 6.0, "series": "LIBOR"},
      {"t": 2007.55, "value": 5.95, "series": "LIBOR"},
      {"t": 2007.75, "value": 5.9, "series": "LIBOR"},
      {"t": 2007.90, "value": 5.85, "series": "LIBOR"},
      {"t": 2008.05, "value": 5.6, "series": "LIBOR"},
      {"t": 2008.15, "value": 5.2, "series": "LIBOR"},
      {"t": 2008.27, "value": 4.0, "series": "LIBOR"},
      {"t": 2008.40, "value": 2.75, "series": "LIBOR"},
      {"t": 2008.50, "value": 2.2, "series": "LIBOR"},
      {"t": 2008.62, "value": 1.6, "series": "LIBOR"},
      {"t": 2008.77, "value": 1.1, "series": "LIBOR"},
      {"t": 2008.92, "value": 0.85, "series": "LIBOR"},
      {"t": 2009.07, "value": 0.75, "series": "LIBOR"},
      {"t": 2009.30, "value": 0.7, "series": "LIBOR"},
      {"t": 2009.55, "value": 0.7, "series": "LIBOR"},
      {"t": 2009.80, "value": 0.7, "series": "LIBOR"},
      {"t": 2010.05, "value": 0.72, "series": "LIBOR"},
      {"t": 2010.25, "value": 0.75, "series": "LIBOR"},
      {"t": 2010.50, "value": 0.78, "series": "LIBOR"},
      {"t": 2010.75, "value": 0.82, "series": "LIBOR"},
      {"t": 2011.00, "value": 0.9, "series": "LIBOR"},
      {"t": 2011.20, "value": 0.98, "series": "LIBOR"}
    ]
  },
  "layer": [
    {
      "data": {"name": "recessions"},
      "mark": {"type": "rect", "color": "#DEDEDE"},
      "encoding": {
        "x": {
          "field": "start",
          "type": "quantitative",
          "scale": {"domain": [1978.99, 2011.6], "nice": false, "zero": false},
          "axis": {
            "values": [1980, 1990, 2000, 2010],
            "labelExpr": "datum.value + 'q1'",
            "title": null,
            "grid": false,
            "labelFont": "Liberation Sans",
            "labelFontSize": 20,
            "labelColor": "black",
            "labelPadding": 10,
            "tickColor": "black",
            "tickSize": 5,
            "domainColor": "black",
            "domainWidth": 1
          }
        },
        "x2": {"field": "end"},
        "y": {
          "datum": -5,
          "type": "quantitative",
          "scale": {"domain": [-5.85, 21.1], "nice": false, "zero": false},
          "axis": {
            "values": [-5, 0, 5, 10, 15, 20],
            "title": null,
            "labelAngle": 270,
            "labelAlign": "center",
            "labelBaseline": "bottom",
            "labelFont": "Liberation Sans",
            "labelFontSize": 20,
            "labelColor": "black",
            "labelPadding": 7,
            "tickColor": "black",
            "tickSize": 5,
            "domainColor": "black",
            "domainWidth": 1,
            "gridColor": "#E6EDF0",
            "gridWidth": 2
          }
        },
        "y2": {"datum": 20}
      }
    },
    {
      "data": {"name": "rates"},
      "mark": {"type": "line", "strokeWidth": 2.2},
      "encoding": {
        "x": {"field": "t", "type": "quantitative"},
        "y": {"field": "value", "type": "quantitative"},
        "color": {
          "field": "series",
          "type": "nominal",
          "scale": {
            "domain": ["Nominal risk free return", "LIBOR"],
            "range": ["#5B7132", "#E39A32"]
          },
          "legend": {
            "title": null,
            "orient": "none",
            "legendX": 102,
            "legendY": 477,
            "direction": "horizontal",
            "fillColor": "white",
            "strokeColor": "black",
            "padding": 9,
            "symbolType": "stroke",
            "symbolSize": 6084,
            "symbolStrokeWidth": 2,
            "clipHeight": 20,
            "labelFont": "Liberation Sans",
            "labelFontSize": 20.8,
            "labelColor": "black",
            "labelLimit": 400,
            "labelOffset": 12,
            "columnPadding": 36
          }
        },
        "strokeDash": {
          "field": "series",
          "type": "nominal",
          "scale": {
            "domain": ["Nominal risk free return", "LIBOR"],
            "range": [[1, 0], [10, 5]]
          }
        }
      }
    }
  ]
}
